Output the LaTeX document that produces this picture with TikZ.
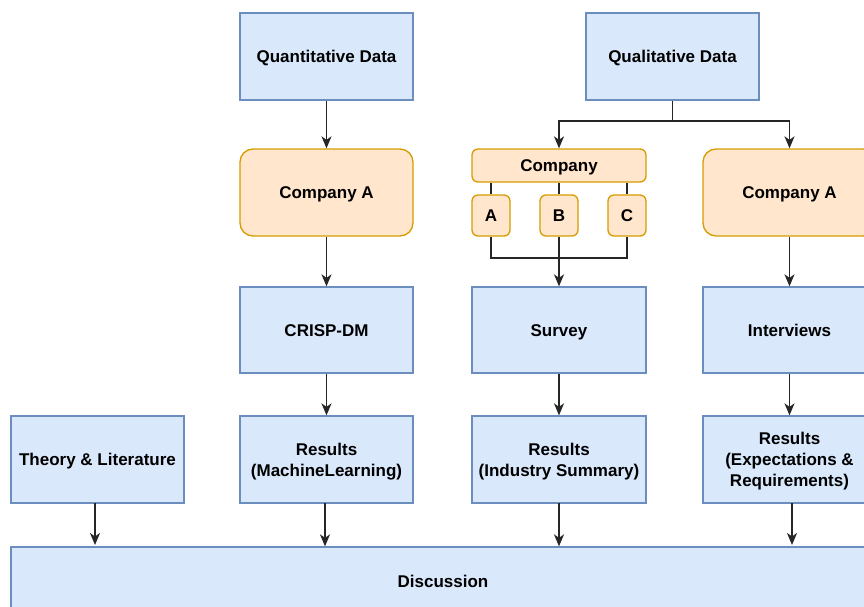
\documentclass[tikz,border=0pt]{standalone}
\usepackage{fontspec}
\setmainfont{Liberation Sans}
\usetikzlibrary{arrows.meta}
\definecolor{bfill}{HTML}{DAE8FC}
\definecolor{bdraw}{HTML}{6C8EBF}
\definecolor{ofill}{HTML}{FFE6CC}
\definecolor{odraw}{HTML}{D79B00}
\newcommand{\lowered}[1]{\raisebox{-2pt}[\height][\depth]{\begin{tabular}{@{}c@{}}#1\end{tabular}}}
\tikzset{
  bluebox/.style={draw=bdraw, fill=bfill, line width=1.3pt, minimum width=173pt, minimum height=87pt, inner sep=0pt, align=center, font=\fontsize{17}{21}\selectfont\bfseries},
  orangebox/.style={draw=odraw, fill=ofill, line width=1.3pt, rounded corners=13pt, minimum width=173pt, minimum height=87pt, inner sep=0pt, align=center, font=\fontsize{17}{21}\selectfont\bfseries},
  smallbox/.style={orangebox, rounded corners=6pt},
  conn/.style={line width=1.5pt, draw=black!85},
  arr/.style={conn, -{Stealth[length=12pt, width=10pt, inset=3.5pt]}},
}
\begin{document}
\begin{tikzpicture}[x=1pt, y=-1pt]
\useasboundingbox (0,0) rectangle (864,607);
\clip (0,0) rectangle (864,607);
% top row
\node[bluebox] (quant) at (326.5,56.5) {\lowered{Quantitative Data}};
\node[bluebox] (qual) at (672.5,56.5) {\lowered{Qualitative Data}};
% company row
\node[orangebox] (compA1) at (326.5,192.5) {\lowered{Company A}};
\node[smallbox, minimum width=174pt, minimum height=33pt] (company) at (559,165.5) {\lowered{Company}};
\node[smallbox, minimum width=38pt, minimum height=41pt] (A) at (491,215.5) {\lowered{A}};
\node[smallbox, minimum width=38pt, minimum height=41pt] (B) at (559,215.5) {\lowered{B}};
\node[smallbox, minimum width=38pt, minimum height=41pt] (C) at (627,215.5) {\lowered{C}};
\node[orangebox] (compA2) at (789.5,192.5) {\lowered{Company A}};
% method row
\node[bluebox, minimum height=86pt] (crisp) at (326.5,330) {\lowered{CRISP-DM}};
\node[bluebox, minimum width=174pt, minimum height=86pt] (survey) at (559,330) {\lowered{Survey}};
\node[bluebox, minimum height=86pt] (interviews) at (789.5,330) {\lowered{Interviews}};
% results row
\node[bluebox] (theory) at (97.5,459.5) {\lowered{Theory \& Literature}};
\node[bluebox] (resML) at (326.5,459.5) {\lowered{Results\\(MachineLearning)}};
\node[bluebox, minimum width=174pt] (resInd) at (559,459.5) {\lowered{Results\\(Industry Summary)}};
\node[bluebox] (resExp) at (789.5,459.5) {\lowered{Results\\(Expectations \&\\Requirements)}};
% discussion
\node[bluebox, minimum width=864pt, minimum height=68pt] (disc) at (443,581) {\lowered{Discussion}};
% connectors
\draw[arr] (quant) -- (compA1);
\coordinate (qsplit) at (672.5,121);
\draw[conn] (qual.south) -- (qsplit);
\draw[arr] (qsplit) -| (company.north);
\draw[arr] (qsplit) -| (compA2.north);
\draw[conn] (company.south -| A.north) -- (A.north);
\draw[conn] (company.south -| B.north) -- (B.north);
\draw[conn] (company.south -| C.north) -- (C.north);
\coordinate (abcjoin) at (559,258);
\draw[conn] (A.south) |- (abcjoin);
\draw[conn] (C.south) |- (abcjoin);
\draw[arr] (B.south) -- (survey.north);
\draw[arr] (compA1) -- (crisp);
\draw[arr] (compA2) -- (interviews);
\draw[arr] (crisp) -- (resML);
\draw[arr] (survey) -- (resInd);
\draw[arr] (interviews) -- (resExp);
\coordinate (t1) at (95,503);
\coordinate (t2) at (95,545);
\draw[arr] (t1) -- (t2);
\coordinate (m1) at (325,503);
\draw[arr] (m1) -- (m1 |- disc.north);
\coordinate (i1) at (559,503);
\draw[arr] (i1) -- (i1 |- disc.north);
\coordinate (e1) at (792,503);
\coordinate (e2) at (792,545);
\draw[arr] (e1) -- (e2);
\end{tikzpicture}
\end{document}
